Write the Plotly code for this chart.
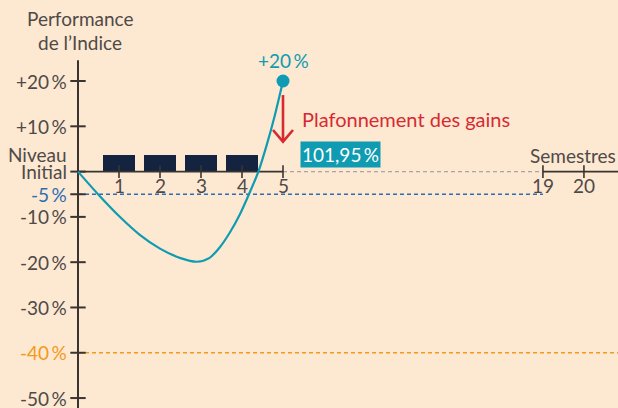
import plotly.graph_objects as go

# ---- data ----
curve_sem = [0, 0.5, 1.0, 1.5, 2.0, 2.5, 2.9, 3.2, 3.45, 3.7, 3.95, 4.17, 4.4, 4.6, 4.8, 5]
curve_val = [0, -5.1, -9.8, -13.9, -17.0, -19.1, -19.9, -19.1, -16.8, -13.5, -9.4, -5, 0, 5.8, 12.4, 20]
bar_sem = [1, 2, 3, 4]
bar_val = [3.75, 3.75, 3.75, 3.75]
y_ticks = [20, 10, 0, -5, -10, -20, -30, -40, -50]
y_labels = ["+20\u2009%", "+10\u2009%", "", "-5\u2009%", "-10\u2009%", "-20\u2009%", "-30\u2009%", "-40\u2009%", "-50\u2009%"]
x_tick_pos = [1, 2, 3, 4, 5, 11.34, 12.34]
x_tick_labels = ["1", "2", "3", "4", "5", "19", "20"]
cap_level = 20
coupon_label = "101,95\u2009%"
barrier_coupon = -5
barrier_capital = -40

BG = "#fde8d2"
TEAL = "#0f9bb1"
NAVY = "#14233f"
RED = "#d62a31"
BLUE = "#2c6db3"
ORANGE = "#f39a1c"
GREY = "#4f4a48"
AXIS = "#3a3431"
FONT = "Lato"
FS = 19

X0, X1 = -78 / 41, 540 / 41
Y0, Y1 = -(408 - 171.6) / 4.529, 171.6 / 4.529
X_END = X1
X_BREAK = x_tick_pos[5]


def yv(px):
    return (171.6 - px) / 4.529


fig = go.Figure()

# dashed reference lines
fig.add_trace(go.Scatter(x=[0, X_END], y=[barrier_capital] * 2, mode="lines",
                         line=dict(color=ORANGE, width=1.3, dash="4px,3px"), hoverinfo="skip"))
fig.add_trace(go.Scatter(x=[0, X_BREAK], y=[barrier_coupon] * 2, mode="lines",
                         line=dict(color=BLUE, width=1.3, dash="4px,3px"), hoverinfo="skip"))
fig.add_trace(go.Scatter(x=[5, X_BREAK], y=[0, 0], mode="lines",
                         line=dict(color="#aaa5a2", width=1.3, dash="4px,3px"), hoverinfo="skip"))

# bars
fig.add_trace(go.Bar(x=bar_sem, y=bar_val, width=0.78, marker=dict(color=NAVY, line=dict(width=0)),
                     hoverinfo="skip"))

# axes lines
fig.add_trace(go.Scatter(x=[0, 0], y=[Y0, 24.6], mode="lines", line=dict(color=AXIS, width=2), hoverinfo="skip"))
fig.add_trace(go.Scatter(x=[0, 5], y=[0, 0], mode="lines", line=dict(color=AXIS, width=1.8), hoverinfo="skip"))
fig.add_trace(go.Scatter(x=[X_BREAK, X_END], y=[0, 0], mode="lines", line=dict(color=AXIS, width=1.8), hoverinfo="skip"))

# ticks
fig.add_trace(go.Scatter(x=[0] * len(y_ticks), y=y_ticks, mode="markers",
                         marker=dict(symbol="line-ew", size=11, line=dict(color=AXIS, width=2)), hoverinfo="skip"))
fig.add_trace(go.Scatter(x=x_tick_pos, y=[0] * len(x_tick_pos), mode="markers",
                         marker=dict(symbol="line-ns", size=9, line=dict(color=AXIS, width=1.6)), hoverinfo="skip"))

# curve
fig.add_trace(go.Scatter(x=curve_sem, y=curve_val, mode="lines",
                         line=dict(color=TEAL, width=2.2, shape="spline", smoothing=0.8),
                         hoverinfo="skip"))
fig.add_trace(go.Scatter(x=[5], y=[cap_level], mode="markers", marker=dict(color=TEAL, size=13), hoverinfo="skip"))

# red arrow
tip = 6.6
fig.add_trace(go.Scatter(x=[5, 5], y=[16.9, tip + 0.3], mode="lines", line=dict(color=RED, width=2.6), hoverinfo="skip"))
fig.add_trace(go.Scatter(x=[5 - 0.244, 5, 5 + 0.244], y=[tip + 2.58, tip, tip + 2.58], mode="lines",
                         line=dict(color=RED, width=2.6), hoverinfo="skip"))


def font(col, size=FS):
    return dict(family=FONT, size=size, color=col)


ann = []
for v, lab in zip(y_ticks, y_labels):
    if not lab:
        continue
    col = BLUE if v == barrier_coupon else (ORANGE if v == barrier_capital else GREY)
    ann.append(dict(x=0, y=v, text=lab, showarrow=False, xanchor="right", yanchor="middle", xshift=-9,
                    font=font(col)))
for p, lab in zip(x_tick_pos, x_tick_labels):
    ann.append(dict(x=p, y=yv(185), text=lab, showarrow=False, xanchor="center", yanchor="middle",
                    font=font(GREY)))
ann += [
    dict(x=0, y=yv(154), text="Niveau", showarrow=False, xanchor="right", yanchor="middle", xshift=-9,
         font=font(GREY)),
    dict(x=0, y=yv(171), text="Initial", showarrow=False, xanchor="right", yanchor="middle", xshift=-9,
         font=font(GREY)),
    dict(x=0, y=yv(18), text="Performance", showarrow=False, xanchor="center", yanchor="middle", xshift=2,
         font=font(GREY)),
    dict(x=0, y=yv(42), text="de l\u2019Indice", showarrow=False, xanchor="center", yanchor="middle", xshift=2,
         font=font(GREY)),
    dict(x=5, y=yv(60), text="+20\u2009%", showarrow=False, xanchor="center", yanchor="middle",
         font=font(TEAL)),
    dict(x=(300 - 78) / 41, y=yv(119), text="Plafonnement des gains", showarrow=False,
         xanchor="left", yanchor="middle", font=font(RED, 20)),
    dict(x=(300 - 78) / 41, y=yv(154), text=coupon_label, showarrow=False,
         xanchor="left", yanchor="middle", bgcolor=TEAL, borderpad=1,
         font=font("white")),
    dict(x=X_END, y=yv(155), text="Semestres", showarrow=False, xanchor="right", yanchor="middle",
         font=font(GREY)),
]

fig.update_layout(
    width=618, height=408, margin=dict(l=0, r=0, t=0, b=0),
    paper_bgcolor=BG, plot_bgcolor=BG, showlegend=False,
    xaxis=dict(range=[X0, X1], visible=False, fixedrange=True),
    yaxis=dict(range=[Y0, Y1], visible=False, fixedrange=True),
    annotations=ann, bargap=0,
)
fig.write_html("out.html", config={"displayModeBar": False},
               post_script="document.body.style.margin='0px';document.body.style.overflow='hidden';")
